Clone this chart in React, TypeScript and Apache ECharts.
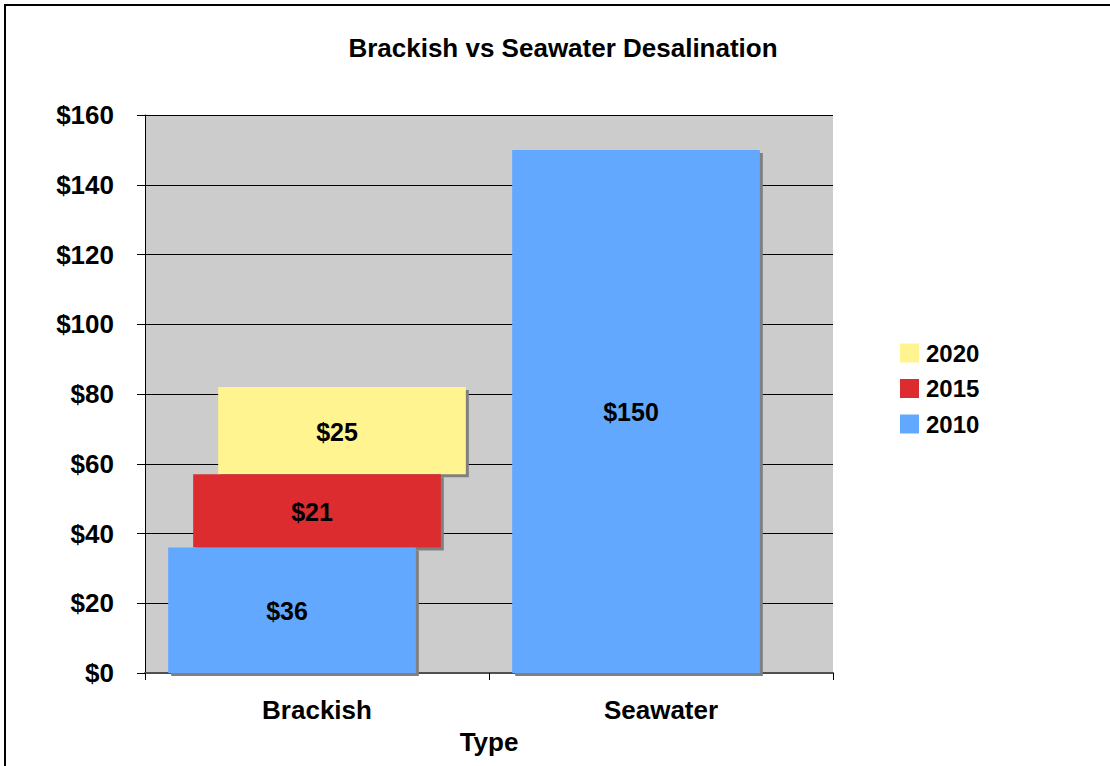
import React, { useEffect, useRef } from "react";
import * as echarts from "echarts";

const categories = ["Brackish", "Seawater"];
const seriesNames = ["2020", "2015", "2010"]; // legend / draw order (back to front)
const values2010 = [36, 150];
const values2015 = [21, null];
const values2020 = [25, null];
const yTicks = [0, 20, 40, 60, 80, 100, 120, 140, 160];

const COLORS: Record<string, string> = { "2010": "#62A8FF", "2015": "#DC2C30", "2020": "#FFF48F" };
const OFFSETS: Record<string, number> = { "2010": -25, "2015": 0, "2020": 25 };
const FONT = "Liberation Sans, Arial, sans-serif";

function buildData(name: string) {
  return categories.map((_, i) => {
    const a = values2010[i] ?? 0;
    const b = values2015[i] ?? 0;
    if (name === "2010") return [i, 0, values2010[i]];
    if (name === "2015") return [i, a, values2015[i]];
    return [i, a + b, values2020[i]];
  });
}

export default function App() {
  const ref = useRef<HTMLDivElement>(null);
  useEffect(() => {
    document.body.style.margin = "0";
    const chart = echarts.init(ref.current!, null, { renderer: "svg" });
    const series = seriesNames.map((name) => ({
      type: "custom",
      name,
      itemStyle: { color: COLORS[name] },
      data: buildData(name),
      encode: { x: 0, y: 2 },
      renderItem: (params: any, api: any) => {
        const ci = api.value(0);
        const base = api.value(1);
        const val = api.value(2);
        if (val == null || isNaN(val)) return null;
        const top = api.coord([ci, base + val]);
        const bot = api.coord([ci, base]);
        const band = api.size([1, 0])[0];
        const w = band * 0.72;
        const cx = top[0] + OFFSETS[name];
        const x = cx - w / 2;
        const h = bot[1] - top[1];
        return {
          type: "group",
          children: [
            { type: "rect", shape: { x: x + 3, y: top[1] + 3, width: w, height: h }, style: { fill: "#808080" } },
            { type: "rect", shape: { x, y: top[1], width: w, height: h }, style: { fill: COLORS[name] } },
            {
              type: "text",
              style: {
                text: "$" + val,
                x: cx - 5,
                y: top[1] + h / 2 + 1,
                align: "center",
                verticalAlign: "middle",
                fontFamily: FONT,
                fontWeight: "bold",
                fontSize: 25,
                fill: "#000",
              },
            },
          ],
        };
      },
    }));
    chart.setOption({
      animation: false,
      backgroundColor: "#ffffff",
      title: {
        text: "Brackish vs Seawater Desalination",
        left: 558,
        textAlign: "center",
        top: 30,
        textStyle: { fontFamily: FONT, fontWeight: "bold", fontSize: 26, color: "#000" },
      },
      legend: {
        orient: "vertical",
        left: 895,
        top: 336,
        itemWidth: 19,
        itemHeight: 19,
        itemGap: 11.5,
        icon: "rect",
        data: seriesNames,
        textStyle: { fontFamily: FONT, fontWeight: "bold", fontSize: 24, color: "#000", padding: [0, 0, 0, 2] },
      },
      grid: {
        left: 145,
        right: 277,
        top: 115,
        bottom: 93,
        outerBoundsMode: "none",
        show: true,
        backgroundColor: "#CCCCCC",
        borderWidth: 0,
      },
      xAxis: {
        type: "category",
        data: categories,
        name: "Type",
        nameLocation: "middle",
        nameGap: 56,
        nameTextStyle: { fontFamily: FONT, fontWeight: "bold", fontSize: 26, color: "#000" },
        axisLine: { lineStyle: { color: "#505050", width: 2 } },
        axisTick: { show: true, length: 7, lineStyle: { color: "#000", width: 1 } },
        axisLabel: { margin: 24, fontFamily: FONT, fontWeight: "bold", fontSize: 26, color: "#000" },
        splitLine: { show: false },
      },
      yAxis: {
        type: "value",
        min: yTicks[0],
        max: yTicks[yTicks.length - 1],
        interval: 20,
        axisLine: { show: true, lineStyle: { color: "#000", width: 1 } },
        axisTick: { show: true, length: 8, lineStyle: { color: "#000" } },
        axisLabel: {
          margin: 31,
          formatter: (v: number) => "$" + v,
          fontFamily: FONT,
          fontWeight: "bold",
          fontSize: 26,
          color: "#000",
        },
        splitLine: { show: true, lineStyle: { color: "#000", width: 1 } },
      },
      graphic: [
        {
          type: "rect",
          shape: { x: 5, y: 5, width: 1300, height: 1000 },
          style: { fill: "none", stroke: "#000", lineWidth: 2 },
          z: 100,
          silent: true,
        },
      ],
      series,
    });
    return () => chart.dispose();
  }, []);
  return <div ref={ref} style={{ width: 1110, height: 766 }} />;
}
